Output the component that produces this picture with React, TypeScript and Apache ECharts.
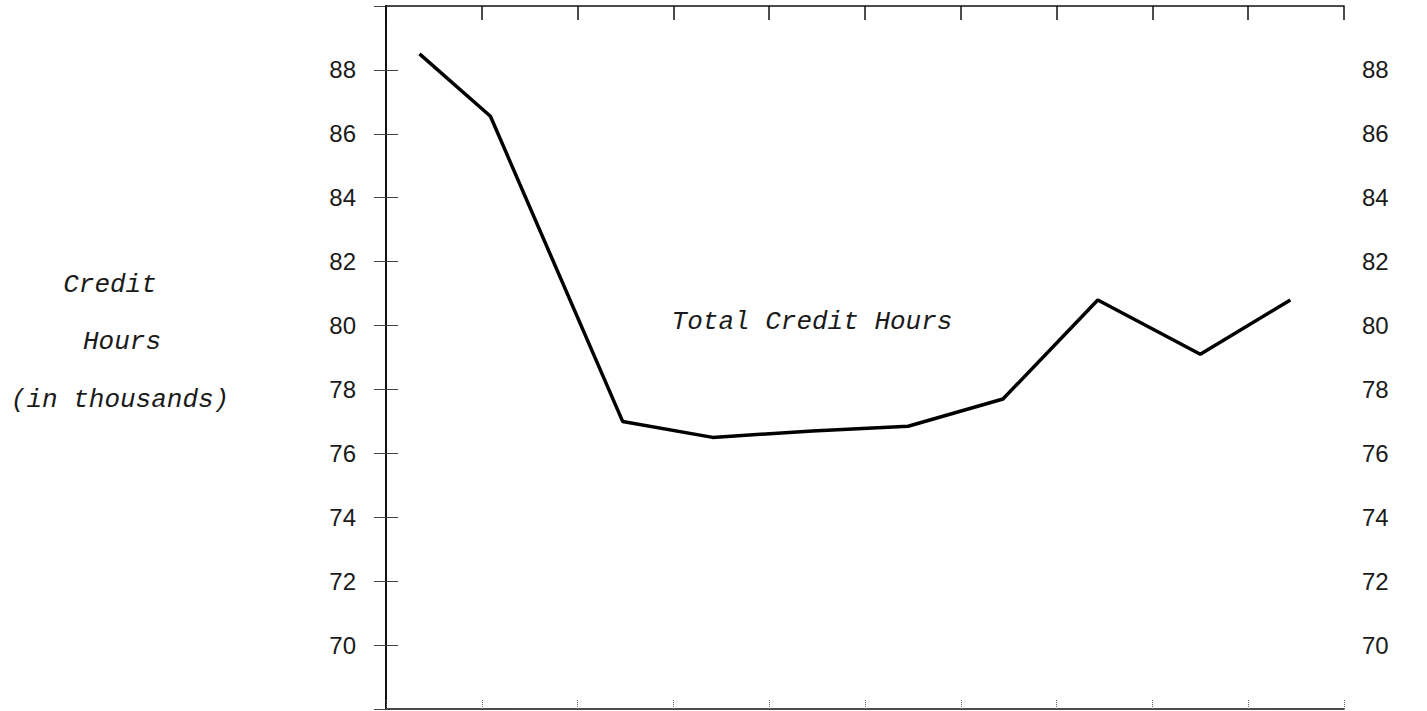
import React, { useEffect, useRef } from "react";
import * as echarts from "echarts";

const xPositions = [0.35, 1.09, 2.47, 3.41, 4.45, 5.45, 6.44, 7.43, 8.5, 9.44];
const creditHours = [88.5, 86.55, 77.0, 76.5, 76.7, 76.85, 77.7, 80.8, 79.1, 80.8];
const yTickLabels = [70, 72, 74, 76, 78, 80, 82, 84, 86, 88];
const axisTitleLines = ["Credit", "Hours", "(in thousands)"];
const seriesLabel = "Total Credit Hours";

export default function App() {
  const ref = useRef<HTMLDivElement>(null);
  useEffect(() => {
    document.body.style.margin = "0";
    const chart = echarts.init(ref.current!, null, { renderer: "svg" });
    const labelFmt = (v: number) => (yTickLabels.includes(v) ? String(v) : "");
    const mono = "'Liberation Mono', 'DejaVu Sans Mono', monospace";
    const yAxisCommon = {
      type: "value" as const,
      min: 68,
      max: 90,
      interval: 2,
      splitLine: { show: false },
      axisLine: { show: true, lineStyle: { color: "#111", width: 2 } },
      axisTick: { show: true, inside: true, length: 12, lineStyle: { color: "#444", width: 1 } },
      axisLabel: {
        formatter: labelFmt,
        color: "#1a1a1a",
        fontSize: 24,
        fontFamily: "'Liberation Sans', Arial, sans-serif",
        margin: 30,
      },
    };
    const xAxisCommon = {
      type: "value" as const,
      min: 0,
      max: 10,
      interval: 1,
      splitLine: { show: false },
      axisLabel: { show: false },
      axisLine: { show: true, onZero: false, lineStyle: { color: "#111", width: 1.5 } },
    };
    chart.setOption({
      animation: false,
      backgroundColor: "#ffffff",
      grid: { left: 386, right: 83, top: 6, bottom: 2, containLabel: false },
      xAxis: [
        { ...xAxisCommon, position: "bottom", axisTick: { show: true, inside: true, length: 10, lineStyle: { color: "#666", width: 1, type: "dotted" } } },
        { ...xAxisCommon, position: "top", axisTick: { show: true, inside: true, length: 14, lineStyle: { color: "#111", width: 1.5 } } },
      ],
      yAxis: [
        { ...yAxisCommon, position: "left" },
        { ...yAxisCommon, position: "right", axisLabel: { ...yAxisCommon.axisLabel, margin: 18 } },
      ],
      series: [
        {
          type: "line",
          xAxisIndex: 0,
          yAxisIndex: 0,
          data: xPositions.map((x, i) => [x, creditHours[i]]),
          showSymbol: false,
          lineStyle: { color: "#000", width: 3.5 },
        },
      ],
      graphic: [
        ...axisTitleLines.map((t, i) => ({
          type: "text",
          x: [110, 122, 120][i],
          y: [285, 342, 400][i],
          style: {
            text: t,
            fill: "#1a1a1a",
            font: `italic 26px ${mono}`,
            textAlign: "center",
            textVerticalAlign: "middle",
          },
        })),
        {
          type: "text",
          x: 812,
          y: 322,
          style: {
            text: seriesLabel,
            fill: "#1a1a1a",
            font: `italic 26px ${mono}`,
            textAlign: "center",
            textVerticalAlign: "middle",
          },
        },
      ],
    });
    return () => chart.dispose();
  }, []);
  return <div ref={ref} style={{ width: 1427, height: 711 }} />;
}
